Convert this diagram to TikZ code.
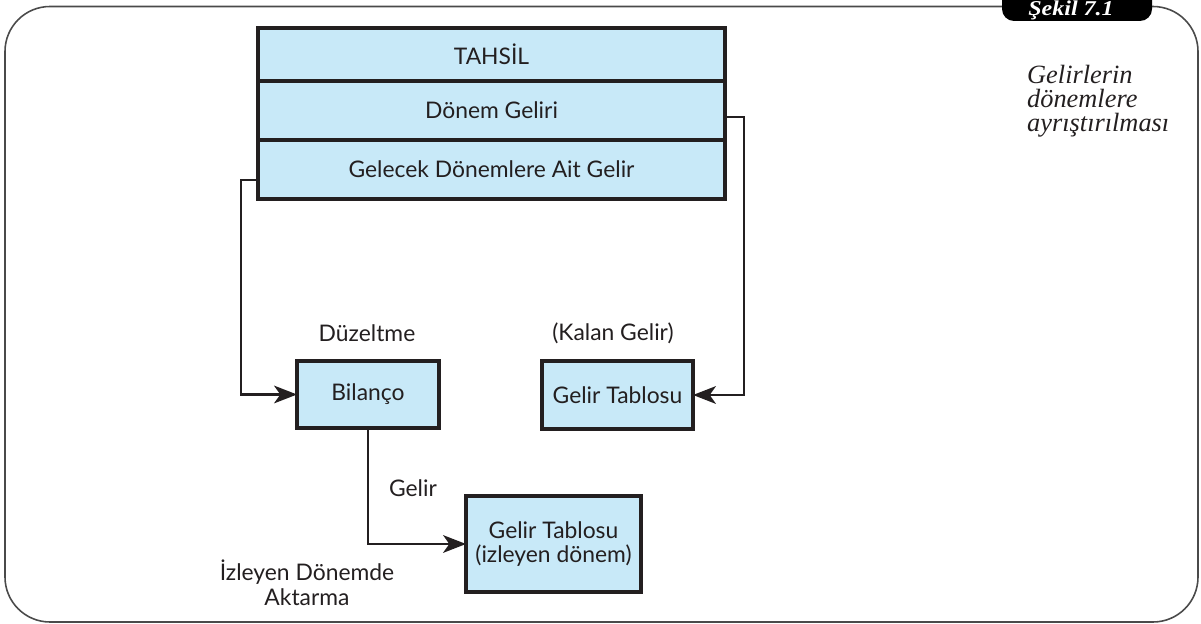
\documentclass[tikz,border=0pt]{standalone}
\usepackage{fontspec}
\setmainfont{Lato}
\newfontfamily\capfont{Liberation Serif}
\usepackage{tikz}
\usetikzlibrary{positioning, arrows.meta, calc}

\definecolor{boxblue}{HTML}{C8E9F8}
\definecolor{inkgray}{HTML}{231F20}
\definecolor{framegray}{HTML}{4A4A4A}

\tikzset{
  box/.style={draw=inkgray, line width=1.8pt, fill=boxblue, rectangle, outer sep=0pt,
    text=inkgray, font=\fontsize{13}{13.5}\selectfont, align=center},
  conn/.style={draw=inkgray, line width=1.7pt, -{Stealth[length=13pt, width=10pt, inset=3.5pt]}},
  lbl/.style={text=inkgray, font=\fontsize{13}{14}\selectfont, align=center}
}

\begin{document}
\begin{tikzpicture}[x=0.02cm, y=-0.02cm, node distance=0pt]
  \useasboundingbox (0,0) rectangle (1201,624);

  % frame and tab
  \draw[framegray, line width=0.9pt, rounded corners=0.9cm]
    (1005,6.5) -- (5,6.5) -- (5,622) -- (1198,622) -- (1198,6.5) -- (1150,6.5);
  \fill[black, rounded corners=0.24cm] (1002,-12) -- (1002,21) -- (1152,21) -- (1152,-12) -- cycle;
  \node[text=white, inner sep=0pt, font=\capfont\bfseries\itshape\fontsize{12}{14}\selectfont]
    (sekil) at (1071,10.5) {\scalebox{1.14}[1]{Şekil 7.1}};
  \node[anchor=north west, align=left, text=inkgray, font=\capfont\itshape\fontsize{15}{13.6}\selectfont]
    (caption) at (1021,59) {Gelirlerin\\dönemlere\\ayrıştırılması};

  % top box
  \node[box, minimum width=9.34cm, minimum height=1.06cm] (tahsil) at (491.5,54.5) {TAHSİL};
  \node[box, minimum width=9.34cm, minimum height=1.18cm] (donem) [below=of tahsil] {Dönem Geliri};
  \node[box, minimum width=9.34cm, minimum height=1.18cm] (gelecek) [below=of donem] {Gelecek Dönemlere Ait Gelir};

  % lower boxes
  \node[box, minimum width=2.84cm, minimum height=1.34cm] (bilanco) at (368,394.5) {Bilanço};
  \node[box, minimum width=3.02cm, minimum height=1.36cm] (tablo) at (617.5,395) {Gelir Tablosu};
  \node[box, minimum width=3.5cm, minimum height=1.92cm] (izleyen) at (553.5,544) {Gelir Tablosu\\(izleyen dönem)};

  % labels
  \node[lbl] (duzeltme) at (367,333) {Düzeltme};
  \node[lbl] (kalan) at (613,333) {(Kalan Gelir)};
  \node[lbl] (gelir) at (413,488) {Gelir};
  \node[lbl] (aktarma) at (307,583) {İzleyen Dönemde\\Aktarma};

  % connectors
  \coordinate (lc) at (241,180);
  \coordinate (rc) at (744,117);
  \draw[conn] (gelecek.west |- lc) -- (lc) |- (bilanco);
  \draw[conn] (donem.east |- rc) -- (rc) |- (tablo);
  \draw[conn] (bilanco.south) |- (izleyen);
\end{tikzpicture}
\end{document}
